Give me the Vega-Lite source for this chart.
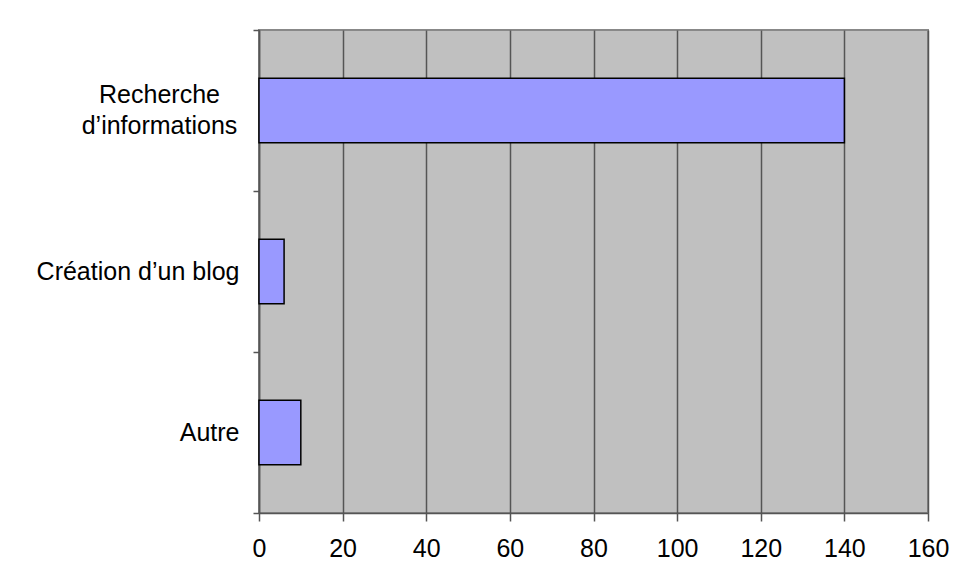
{
  "$schema": "https://vega.github.io/schema/vega-lite/v6.json",
  "autosize": "none",
  "width": 669,
  "height": 483,
  "padding": {"left": 259, "top": 30, "right": 32, "bottom": 74},
  "background": "white",
  "config": {
    "font": "Liberation Sans",
    "view": {"fill": "#c0c0c0", "stroke": "#888888", "strokeWidth": 2}
  },
  "data": {
    "values": [
      {"categorie": "Recherche d’informations", "valeur": 140},
      {"categorie": "Création d’un blog", "valeur": 6},
      {"categorie": "Autre", "valeur": 10}
    ]
  },
  "mark": {"type": "bar", "fill": "#9999ff", "stroke": "black", "strokeWidth": 1.5, "height": {"band": 0.4}},
  "encoding": {
    "y": {
      "field": "categorie",
      "type": "nominal",
      "sort": null,
      "title": null,
      "scale": {"paddingInner": 0, "paddingOuter": 0},
      "axis": {
        "labelExpr": "datum.value == 'Recherche d’informations' ? ['Recherche', 'd’informations'] : datum.value",
        "labelFontSize": 25,
        "labelColor": "black",
        "labelLineHeight": 31,
        "labelAlign": {"condition": {"test": "datum.value == 'Recherche d’informations'", "value": "center"}, "value": "right"},
        "labelPadding": {"condition": {"test": "datum.value == 'Recherche d’informations'", "value": 94}, "value": 14},
        "labelOffset": {"condition": {"test": "datum.value == 'Recherche d’informations'", "value": -16}, "value": 0},
        "tickBand": "extent",
        "tickSize": 6,
        "tickColor": "#555555",
        "tickWidth": 1.5,
        "domainColor": "#555555",
        "domainWidth": 1.5,
        "grid": false,
        "labelLimit": 400
      }
    },
    "x": {
      "field": "valeur",
      "type": "quantitative",
      "title": null,
      "scale": {"domain": [0, 160], "nice": false},
      "axis": {
        "values": [0, 20, 40, 60, 80, 100, 120, 140, 160],
        "labelFontSize": 25,
        "labelColor": "black",
        "labelPadding": 15,
        "tickSize": 8,
        "tickColor": "#555555",
        "tickWidth": 1.5,
        "domainColor": "#555555",
        "domainWidth": 1.5,
        "grid": true,
        "gridColor": "#555555",
        "gridWidth": 1.5,
        "labelFlush": false
      }
    }
  }
}
